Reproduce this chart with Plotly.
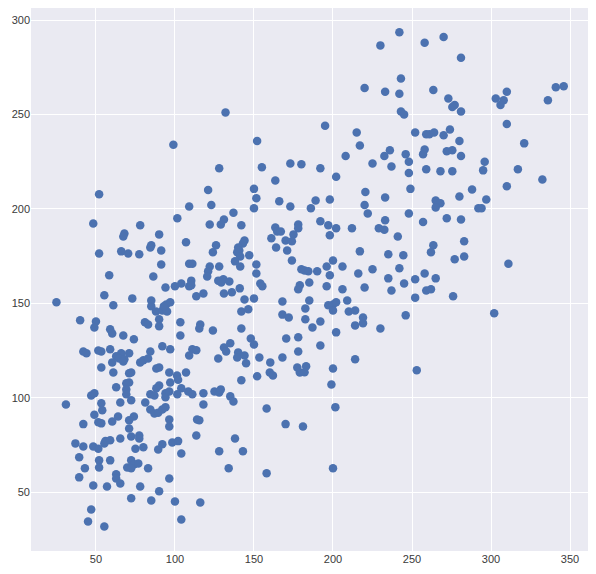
import plotly.graph_objects as go

# values, (x, y) pairs split into two lists
x_vals = [
    99,
    132, 152, 195, 128, 155, 173, 180, 192, 163.5, 121, 150,
    242, 230, 258, 270, 281, 243, 220, 233, 242, 263.5, 273, 277, 275.5, 281, 243, 245,
    215, 217, 208, 225, 232.5, 236, 237, 246, 248, 248, 249, 252, 259, 261, 264, 274,
    270, 280, 258, 257, 272, 275.5, 281, 202, 259, 268, 275.5, 220.5, 288,
    310, 303, 308, 306, 336, 341, 346, 310, 321, 296, 295, 317, 332.5, 310,
    280, 297, 292, 294, 281, 283, 283, 311, 302,
    198, 233, 220, 265, 268, 265, 222, 248, 233, 257, 272, 192, 197, 202, 198, 212,
    229, 232.5, 241, 217, 235, 244.5, 263.5, 262, 277, 200, 196, 206, 190, 198, 216,
    225, 242, 258, 235, 245, 252, 265, 196, 206, 220, 237, 259, 262, 252, 276, 197,
    200, 202, 200, 209, 210, 214, 219, 219, 214, 230, 246, 192, 202, 192, 214, 200, 253,
    199, 201.5, 200,
    107, 142, 152, 160, 162, 179, 182, 177.4, 183, 104, 108.4, 111, 118, 118, 125, 128,
    129, 135, 137, 114, 115.4, 113.5, 102, 104, 128, 138, 143, 134, 158, 158, 170, 181,
    100, 116, 104,
    151.5, 150, 109, 123, 166, 173, 189, 186, 101.5, 137, 131, 129, 122, 142, 163.5,
    164.7, 167, 178, 178, 175, 161, 170, 174, 164, 171, 174, 107, 126, 124, 144, 143,
    140, 140.7, 139.4, 141.3, 147, 138, 141.3, 109, 111, 122, 128, 121, 120.4, 110.3,
    127.4, 130.6, 129.3, 134.4, 109, 110.3, 104, 100, 113.5, 118, 131, 136, 141, 144,
    150, 151.5, 151.5, 154, 155.3, 180, 182, 184.4, 185, 179, 178, 168, 185, 142, 146.4,
    168, 172, 182.5, 182.5, 187, 103.4, 103.4, 116, 115.4, 124, 142, 148, 150, 135, 131,
    132.4, 140, 139.4, 144, 145, 127.4, 111, 113.5, 109, 153.4, 160.3, 168, 170.4, 178, 178,
    52, 48.3, 78, 68, 67.3, 90, 85, 84.4, 91.3, 52, 66, 70.4, 77.4, 91.3, 58.4, 86.3, 94,
    55.3, 61, 73, 25, 85, 85, 88, 92, 94.5, 97, 95, 93, 40, 50, 49, 59, 60.3, 67.3, 74,
    81, 83, 90, 90, 92, 97, 84.4, 42, 44, 51.5, 53.4, 59, 66, 62.8, 64.7, 68, 71, 67.3,
    60.3, 78, 80, 83, 53.4, 61, 71, 72.3, 88.2, 90, 96.4, 101.3,
    102, 62.8, 69.2, 71, 69.2, 69.2, 72.3, 81.2, 84.4, 87, 90, 88.2, 94, 94, 96.4, 97,
    101.5, 47, 49, 31, 53.4, 54, 49, 65.4, 64, 60.3, 51.5, 53.4, 42, 74, 71, 71, 72.3,
    77.4, 77.4, 84.4, 87, 89.4, 92, 94, 96.4, 96.4, 37, 42, 48.3, 51.5, 55.3, 56, 59,
    65.4, 75, 80, 89.4, 92, 98.3, 39.4, 43, 39.4, 52, 52, 59, 72.3, 74.2, 76.8, 69.8,
    72.3, 83, 62.8, 62.8, 65.4, 48.3, 57, 78, 96.4, 90, 72.3, 85, 47, 45, 55.3,
]
y_vals = [
    234,
    251, 236, 244, 221.5, 222, 224, 223.6, 221.5, 215, 210, 210.6,
    293.5, 286.6, 288, 291, 280, 269, 264, 262, 261, 263, 258.5, 255, 254, 251.6, 251.6, 250,
    240.5, 233.6, 228, 224, 228, 231, 222.5, 229, 225, 219, 210.6, 240.5, 239.5, 239.5, 240.5, 242,
    239, 236, 231.5, 229, 230.5, 231, 228, 217, 221, 220, 220, 209, 210.3,
    262, 258.5, 257.5, 255, 257.5, 264.4, 265, 245, 234.7, 225, 220.4, 221, 215.6, 212,
    206.6, 205, 200.3, 200.3, 194.4, 182.8, 174.8, 171, 144.7,
    205, 206, 202, 204.5, 203, 200.8, 197.6, 197.6, 194, 193, 195, 193.4, 191.3, 189.7, 186, 189.7,
    189.7, 189, 185.4, 177.5, 176, 175.4, 180.7, 177, 173.3, 172.7, 169.5, 169.5, 167, 164.8, 165.8,
    168, 168.5, 165.8, 163.2, 160.5, 162.7, 163.2, 159, 157.4, 158.4, 156.8, 156.8, 157.4, 153, 153.7, 149,
    149.4, 150.5, 146.2, 151.5, 145.7, 146.2, 142.5, 139.4, 138.3, 136.7, 143.6, 140.4, 134.6, 127.7, 120.3, 115.5, 114.5,
    107, 95, 62.6,
    113.4, 109.2, 111.3, 113.4, 111.8, 113.4, 113.5, 116, 116.6, 105, 103.3, 101.8, 102.3, 96.4, 103.3, 102.8,
    104.4, 100.7, 98, 88.5, 88, 80, 77, 70.5, 71.6, 78.4, 71.6, 62.6, 94.3, 60, 86, 84.8,
    45, 44.5, 35.5,
    205.6, 200.3, 201.3, 202, 204, 201.3, 204.5, 200.3, 195, 198, 194.4, 191.7, 191.7, 191.3, 190.2,
    188, 188, 191.7, 189.7, 186.5, 184.4, 183.3, 182.8, 179.6, 178, 172.7, 182.3, 180.7, 177, 183.3, 181.7,
    179.6, 178, 177, 174.8, 175.4, 172.2, 169.5, 171, 171, 169.5, 169.5, 167, 164.2, 162,
    162, 162.7, 161, 161.6, 159, 159.5, 160.5, 159, 153.7, 155.2, 155.2, 155.8, 157.9, 152,
    152.6, 170.6, 165.8, 160.5, 159, 168, 167.4, 167, 161, 159.5, 157.4, 151, 151.5, 145.7, 146.8,
    144, 142.5, 147.3, 141.5, 137.2, 140, 133, 138.8, 136.7, 135.6, 136.7, 131.4, 128.2, 128.8, 126.6,
    124.5, 124, 121.3, 122.4, 118.2, 120.8, 125.6, 125.1, 122.4, 121.3, 118.7, 121.3, 131.4, 132, 124.5,
    207.7, 192.3, 191.3, 187, 185.4, 186.5, 180.7, 179.6, 178, 176.4, 177.5, 176.4, 176, 170.6, 164.8, 164.2, 158.4,
    154.2, 149, 152.6, 150.5, 151.5, 148.4, 145.7, 146.2, 149.4, 150.5, 145.7, 148.4, 141, 140.4, 137.2, 136.2, 134, 133, 131,
    140, 138.8, 141.5, 137.8, 127.2, 125.6, 124.5, 124.5, 123.5, 125, 124.5, 125.6, 123.5, 122, 120.8, 120.3, 123.5, 119.2,
    118.7, 118.7, 119.8, 120.8, 116, 113.4, 113, 113.4, 115.5, 116, 113.4, 111.8,
    109.5, 105.5, 107.6, 108, 104.4, 101.8, 98.6, 97.5, 101.8, 101.2, 106.5, 105, 102.3, 100.2, 103.3, 108,
    101.8, 101.2, 102.3, 96.4, 97, 93.3, 91, 97.5, 90, 87.4, 87, 86.4, 86, 90, 88, 83.7, 79.5,
    80, 78.4, 93.8, 91.6, 92, 93.8, 95, 88.5, 84.8, 75.8, 74.2, 74.2, 73, 75.8, 77, 77.4,
    78.4, 73, 73.7, 72.6, 75.3, 76.3, 68.4, 62.6, 57.8, 66.8, 63, 66.8, 66.8, 64.7, 65.2, 63,
    62.6, 62.6, 59.4, 57.2, 54.6, 53.5, 53, 53, 57.2, 50.4, 46.7, 45.6, 40.8, 34.4, 31.8,
]

x_ticks = [50, 100, 150, 200, 250, 300, 350]
y_ticks = [50, 100, 150, 200, 250, 300]

fig = go.Figure()
fig.add_trace(go.Scatter(
    x=x_vals, y=y_vals,
    mode="markers",
    marker=dict(color="#4C72B0", size=8.5, line=dict(width=0)),
    showlegend=False,
))

axis_style = dict(
    showgrid=True, gridcolor="white", gridwidth=1.3,
    zeroline=False, showline=False, ticks="",
    tickfont=dict(family="Liberation Sans, Arial, sans-serif", size=11, color="#3a3a3a"),
)
fig.update_xaxes(range=[8.9, 362], tickvals=x_ticks, **axis_style)
fig.update_yaxes(range=[18.8, 306.4], tickvals=y_ticks, **axis_style)

# the page adds an 8px body margin, so the figure is a bit smaller than the window
fig.update_layout(
    width=588, height=566,
    paper_bgcolor="white", plot_bgcolor="#EAEAF2",
    margin=dict(l=23, r=7, t=0, b=23),
)

fig.write_html("out.html")
